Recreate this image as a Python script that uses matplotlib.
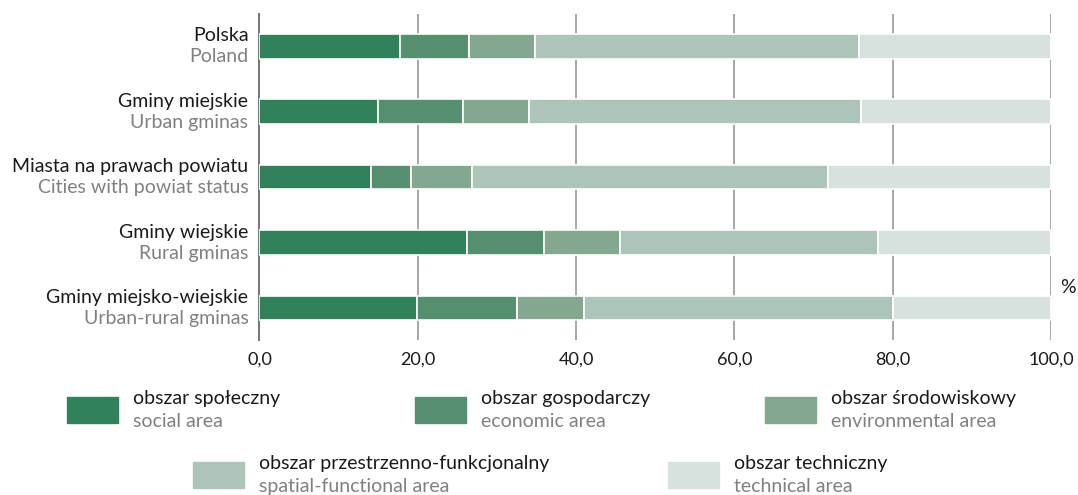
import matplotlib
matplotlib.use('Agg')
import matplotlib.pyplot as plt
from matplotlib.patches import Rectangle
from matplotlib.ticker import FuncFormatter

plt.rcParams['font.family'] = ['Lato', 'DejaVu Sans']

# categories (Polish / English)
names_pl = ['Polska', 'Gminy miejskie', 'Miasta na prawach powiatu',
            'Gminy wiejskie', 'Gminy miejsko-wiejskie']
names_en = ['Poland', 'Urban gminas', 'Cities with powiat status',
            'Rural gminas', 'Urban-rural gminas']

# shares in %
social = [17.7, 15.0, 14.1, 26.2, 19.9]
economic = [8.8, 10.7, 5.1, 9.7, 12.6]
environmental = [8.3, 8.3, 7.7, 9.6, 8.5]
spatial = [40.9, 42.0, 44.9, 32.7, 39.1]
technical = [24.3, 24.0, 28.2, 21.8, 19.9]

series = [social, economic, environmental, spatial, technical]
series_pl = ['obszar społeczny', 'obszar gospodarczy', 'obszar środowiskowy',
             'obszar przestrzenno-funkcjonalny', 'obszar techniczny']
series_en = ['social area', 'economic area', 'environmental area',
             'spatial-functional area', 'technical area']
colors = ['#31825b', '#558f6f', '#84a790', '#adc4b8', '#d7e1dd']

black = '#1a1a1a'
grey = '#808080'
fs = 14

fig = plt.figure(figsize=(10.78, 4.95), dpi=100)
ax = fig.add_axes([0.2407, 0.3131, 0.7341, 0.6586])

y = list(range(len(names_pl)))
left = [0.0] * len(y)
for vals, c in zip(series, colors):
    ax.barh(y, vals, left=left, height=0.38, color=c, edgecolor='white',
            linewidth=1.2, zorder=3)
    left = [l + v for l, v in zip(left, vals)]

ax.set_xlim(0, 100)
ax.set_ylim(len(y) - 0.51, -0.49)
ax.set_xticks([0, 20, 40, 60, 80, 100])
ax.xaxis.set_major_formatter(FuncFormatter(lambda v, p: f'{v:.1f}'.replace('.', ',')))
ax.tick_params(axis='x', length=0, pad=8, labelsize=13, labelcolor=black)
ax.set_yticks([])
ax.grid(axis='x', color='#8f8f8f', linewidth=1.1, zorder=0)
for s in ['top', 'right', 'bottom']:
    ax.spines[s].set_visible(False)
ax.spines['left'].set_color('#7a7a7a')
ax.spines['left'].set_linewidth(1.5)

tr = ax.get_yaxis_transform()
for i, (pl, en) in enumerate(zip(names_pl, names_en)):
    ax.text(-0.014, i - 0.076, pl, transform=tr, ha='right', va='baseline',
            fontsize=fs, color=black)
    ax.text(-0.014, i + 0.245, en, transform=tr, ha='right', va='baseline',
            fontsize=fs, color=grey)

ax.text(1.012, 0.16, '%', transform=ax.transAxes, fontsize=fs, color=black,
        ha='left', va='center')

# legend drawn by hand: two text lines next to each swatch
legend_pos = [(67, 397), (415, 397), (765, 397), (193, 462), (668, 462)]
W, H = 1078, 495
for (px, py), c, pl, en in zip(legend_pos, colors, series_pl, series_en):
    fig.add_artist(Rectangle((px / W, 1 - (py + 26) / H), 51 / W, 26 / H,
                             transform=fig.transFigure, color=c))
    fig.text((px + 66) / W, 1 - (py + 7) / H, pl, fontsize=fs, color=black,
             ha='left', va='baseline')
    fig.text((px + 66) / W, 1 - (py + 30) / H, en, fontsize=fs, color=grey,
             ha='left', va='baseline')

fig.savefig('out.png', dpi=100)
